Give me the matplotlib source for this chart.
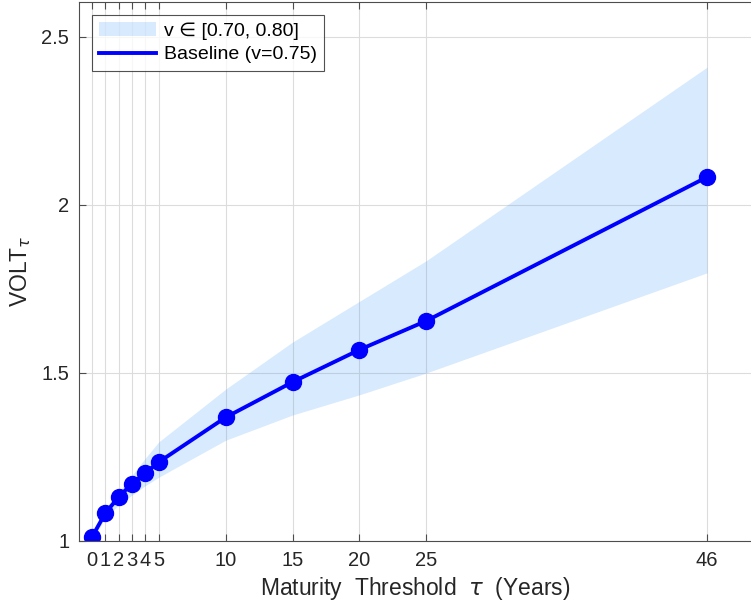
import numpy as np
import matplotlib
matplotlib.use("Agg")
import matplotlib.pyplot as plt

plt.rcParams['font.family'] = ['Liberation Sans', 'DejaVu Sans']
plt.rcParams['mathtext.fontset'] = 'custom'
plt.rcParams['mathtext.it'] = 'DejaVu Sans:italic'

# maturity thresholds (years)
tau = np.array([0, 1, 2, 3, 4, 5, 10, 15, 20, 25, 46])
# baseline VOLT (v=0.75)
volt = np.array([1.012, 1.083, 1.131, 1.171, 1.203, 1.235, 1.368, 1.473, 1.569, 1.655, 2.083])
# band for v in [0.70, 0.80]
lower = np.array([1.0, 1.07, 1.107, 1.137, 1.165, 1.19, 1.30, 1.375, 1.435, 1.50, 1.798])
upper = np.array([1.02, 1.098, 1.146, 1.196, 1.247, 1.295, 1.452, 1.592, 1.713, 1.834, 2.41])

xticks = [0, 1, 2, 3, 4, 5, 10, 15, 20, 25, 46]
yticks = [1, 1.5, 2, 2.5]
yticklabels = ['1', '1.5', '2', '2.5']

fig = plt.figure(figsize=(7.51, 6.07), dpi=100)
ax = fig.add_axes([79/751, 66/607, 672/751, 539/607])

ax.fill_between(tau, lower, upper, color=(0.24, 0.59, 0.96), alpha=0.2,
                linewidth=0, label=u'v \u2208 [0.70, 0.80]')
ax.plot(tau, volt, color='blue', lw=2.8, label='Baseline (v=0.75)')
ax.plot(tau, volt, color='blue', lw=0, marker='o', markersize=11.5)

ax.set_xlim(-0.972, 49.29)
ax.set_ylim(1, 2.604)
ax.set_xticks(xticks)
ax.set_xticklabels([str(t) for t in xticks])
ax.set_yticks(yticks)
ax.set_yticklabels(yticklabels)

ax.grid(True, color='#dcdcdc', lw=0.8)
ax.set_axisbelow(True)
ax.spines['right'].set_visible(False)
for s in ['left', 'bottom', 'top']:
    ax.spines[s].set_color('#4d4d4d')
    ax.spines[s].set_linewidth(0.8)
ax.tick_params(direction='in', length=5, width=0.8, color='#4d4d4d',
               top=True, labelsize=14.5, labelcolor='#262626', pad=7)

ax.set_xlabel(r'Maturity  Threshold  $\tau$  (Years)', fontsize=16.5, color='#262626')
ax.set_ylabel(r'VOLT$_\tau$', fontsize=16.5, color='#262626', labelpad=6)

leg = ax.legend(loc='upper left', fontsize=14, frameon=True, fancybox=False,
                edgecolor='#262626', borderaxespad=0.65, handlelength=2.9,
                labelspacing=0.3, borderpad=0.4, handletextpad=0.4)
leg.get_frame().set_linewidth(0.8)

fig.savefig('out.png', dpi=100)
